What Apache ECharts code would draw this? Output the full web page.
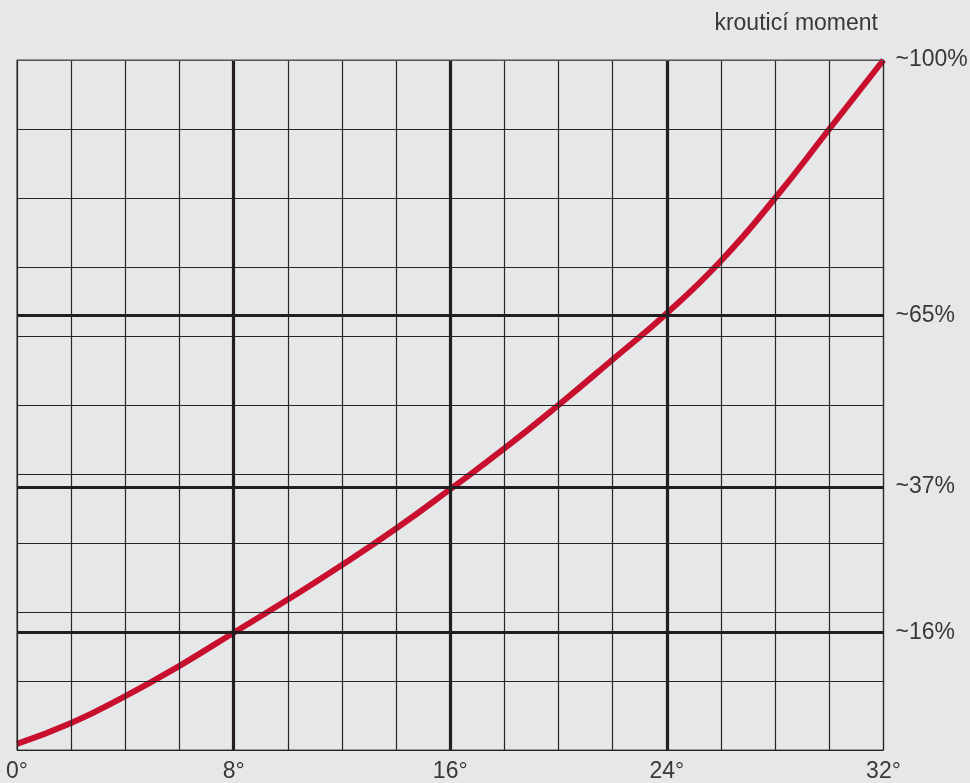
<!DOCTYPE html>
<html>
<head>
<meta charset="utf-8">
<script src="https://cdn.jsdelivr.net/npm/echarts@6/dist/echarts.min.js"></script>
<style>
html,body{margin:0;padding:0;background:#e6e7e9;}
#c{width:970px;height:783px;}
</style>
</head>
<body>
<div id="c"></div>
<script>
// Data
const angles = [0, 2, 4, 6, 8, 10, 12, 14, 16, 18, 20, 22, 24, 26, 28, 30, 32];
const torque = [0.9, 3.9, 7.8, 12.2, 17.0, 21.8, 26.8, 32.1, 37.8, 43.7, 50.0, 56.6, 63.3, 70.9, 80.0, 90.0, 100];
const xTickLabels = [0, 8, 16, 24, 32];
const refLevels = [17.0, 38.1, 63.0];
const refLabels = ['~16%', '~37%', '~65%'];
const topLevel = 100;
const topLabel = '~100%';
const refAngles = [8, 16, 24];
const yTitle = 'krouticí moment';

const FONT = 'Liberation Sans, Arial, Helvetica, sans-serif';
const TXT = '#383838';
const THIN = { color: '#262626', width: 1.2 };
const THICK = { color: '#231f20', width: 3.2, type: 'solid' };

const labelStyle = { show: true, position: 'end', distance: 12, fontSize: 23, fontFamily: FONT, color: TXT };

const markData = [];
refLevels.forEach((v, i) => markData.push({ yAxis: v, lineStyle: THICK, label: Object.assign({}, labelStyle, { formatter: refLabels[i] }) }));
refAngles.forEach(v => markData.push({ xAxis: v, lineStyle: THICK, label: { show: false } }));
markData.push({ yAxis: topLevel, lineStyle: { color: '#555', width: 1.2, type: 'solid' }, label: Object.assign({}, labelStyle, { formatter: topLabel }) });

const chart = echarts.init(document.getElementById('c'), null, { renderer: 'canvas' });
chart.setOption({
  backgroundColor: '#e6e7e9',
  animation: false,
  title: {
    text: yTitle, right: 92, top: 12, padding: 0,
    textStyle: { fontSize: 23, fontWeight: 'normal', color: TXT, fontFamily: FONT }
  },
  grid: { left: 17, right: 86.5, top: 60, bottom: 32, show: true, borderColor: '#444', borderWidth: 1.2, backgroundColor: 'transparent' },
  xAxis: {
    type: 'value', min: 0, max: 32, interval: 2, z: 5,
    axisLine: { show: false }, axisTick: { show: false },
    splitLine: { show: true, lineStyle: THIN },
    axisLabel: {
      show: true, margin: 10, fontSize: 23, fontFamily: FONT, color: TXT,
      showMinLabel: true, showMaxLabel: true,
      formatter: v => (xTickLabels.indexOf(v) >= 0 ? v + '°' : '')
    }
  },
  yAxis: {
    type: 'value', min: 0, max: 100, interval: 10, z: 5,
    axisLine: { show: false }, axisTick: { show: false }, axisLabel: { show: false },
    splitLine: { show: true, lineStyle: THIN }
  },
  series: [
    {
      type: 'line', z: 2,
      data: angles.map((a, i) => [a, torque[i]]),
      smooth: 0.5, showSymbol: false, symbol: 'none',
      lineStyle: { color: '#c8102e', width: 6, cap: 'butt' }
    },
    {
      type: 'line', z: 10, data: [], symbol: 'none',
      markLine: { silent: true, symbol: 'none', animation: false, data: markData }
    }
  ]
});
</script>
</body>
</html>
